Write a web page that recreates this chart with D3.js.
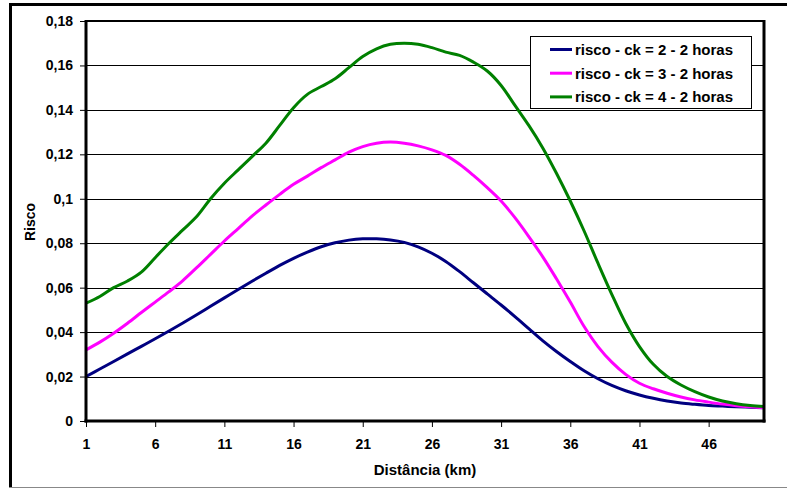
<!DOCTYPE html>
<html><head><meta charset="utf-8">
<script src="https://cdn.jsdelivr.net/npm/d3@7"></script>
<style>
body{margin:0;background:#fff;}
text{font-family:"Liberation Sans",Arial,sans-serif;font-weight:bold;fill:#000;}
</style></head>
<body><svg id="c" width="787" height="489"></svg>
<script>
const categories = d3.range(1, 51);
const seriesNames = ["risco - ck = 2 - 2 horas", "risco - ck = 3 - 2 horas", "risco - ck = 4 - 2 horas"];
const seriesColors = ["#000080", "#ff00ff", "#008000"];
const ck2 = [0.0200,0.0234,0.0268,0.0302,0.0336,0.0370,0.0405,0.0441,0.0478,0.0516,
  0.0554,0.0592,0.0629,0.0665,0.0700,0.0732,0.0760,0.0784,0.0802,0.0814,
  0.0820,0.0820,0.0815,0.0804,0.0784,0.0755,0.0718,0.0672,0.0622,0.0572,
  0.0522,0.0470,0.0416,0.0362,0.0313,0.0268,0.0226,0.0190,0.0160,0.0136,
  0.0117,0.0102,0.0090,0.0081,0.0075,0.0070,0.0067,0.0064,0.0062,0.0060];
const ck3 = [0.0320,0.0355,0.0395,0.0440,0.0488,0.0535,0.0582,0.0632,0.0690,0.0750,
  0.0810,0.0866,0.0922,0.0972,0.1020,0.1065,0.1102,0.1140,0.1175,0.1210,
  0.1235,0.1250,0.1255,0.1250,0.1238,0.1220,0.1195,0.1155,0.1105,0.1050,
  0.0990,0.0915,0.0830,0.0740,0.0640,0.0535,0.0425,0.0335,0.0265,0.0210,
  0.0170,0.0145,0.0125,0.0108,0.0095,0.0085,0.0076,0.0069,0.0064,0.0060];
const ck4 = [0.0530,0.0560,0.0600,0.0630,0.0670,0.0735,0.0800,0.0860,0.0920,0.1000,
  0.1070,0.1130,0.1190,0.1250,0.1330,0.1410,0.1470,0.1505,0.1540,0.1590,
  0.1640,0.1675,0.1695,0.1700,0.1695,0.1680,0.1660,0.1645,0.1615,0.1575,
  0.1510,0.1420,0.1330,0.1230,0.1115,0.0990,0.0855,0.0710,0.0570,0.0440,
  0.0335,0.0255,0.0200,0.0162,0.0132,0.0108,0.0090,0.0078,0.0070,0.0065];
const yTicks = [0,0.02,0.04,0.06,0.08,0.1,0.12,0.14,0.16,0.18];
const xTicks = [1,6,11,16,21,26,31,36,41,46];
const series = [ck2, ck3, ck4];

const svg = d3.select("#c");
const L = 86, R = 764, T = 21, B = 421;
const x = d3.scaleLinear().domain([1, 50]).range([L, R]);
const y = d3.scaleLinear().domain([0, 0.18]).range([B, T]);
const fmt = v => String(v).replace(".", ",");

// outer frame
svg.append("line").attr("x1",10.5).attr("x2",10.5).attr("y1",3).attr("y2",488).attr("stroke","#000").attr("stroke-width",3);
svg.append("line").attr("x1",9).attr("x2",787).attr("y1",4.5).attr("y2",4.5).attr("stroke","#000").attr("stroke-width",3);
svg.append("line").attr("x1",9).attr("x2",787).attr("y1",487.5).attr("y2",487.5).attr("stroke","#888").attr("stroke-width",1);

// gridlines
svg.append("g").selectAll("line").data(yTicks.filter(d => d > 0 && d < 0.18)).join("line")
  .attr("x1", L).attr("x2", R).attr("y1", d => Math.round(y(d)) + 0.5).attr("y2", d => Math.round(y(d)) + 0.5)
  .attr("stroke", "#000").attr("stroke-width", 1);

// y axis
const yAxis = svg.append("g").attr("transform", `translate(${L},0)`)
  .call(d3.axisLeft(y).tickValues(yTicks).tickFormat(fmt).tickSize(6).tickPadding(7));
yAxis.select(".domain").remove();
yAxis.selectAll("line").attr("stroke", "#000");
yAxis.selectAll("text").style("font-size", "14px").style("font-weight", "bold").attr("fill", "#000");

// x axis
const xAxis = svg.append("g").attr("transform", `translate(0,${B})`)
  .call(d3.axisBottom(x).tickValues(xTicks).tickFormat(d3.format("d")).tickSize(6).tickPadding(12));
xAxis.select(".domain").remove();
xAxis.selectAll("line").attr("stroke", "#000");
xAxis.selectAll("text").style("font-size", "14px").style("font-weight", "bold").attr("fill", "#000");

// series
const line = d3.line().x((d, i) => x(categories[i])).y(d => y(d)).curve(d3.curveCatmullRom.alpha(0.5));
svg.append("g").selectAll("path").data(series).join("path")
  .attr("d", d => line(d)).attr("fill", "none")
  .attr("stroke", (d, i) => seriesColors[i]).attr("stroke-width", 3);

// plot frame
svg.append("line").attr("x1", L).attr("x2", R).attr("y1", T).attr("y2", T).attr("stroke", "#000").attr("stroke-width", 2);
svg.append("line").attr("x1", L).attr("x2", L).attr("y1", T - 1).attr("y2", B + 1.5).attr("stroke", "#000").attr("stroke-width", 3);
svg.append("line").attr("x1", L - 1.5).attr("x2", R + 1.5).attr("y1", B).attr("y2", B).attr("stroke", "#000").attr("stroke-width", 3);
svg.append("line").attr("x1", R).attr("x2", R).attr("y1", T - 1).attr("y2", B + 1.5).attr("stroke", "#000").attr("stroke-width", 3);

// axis titles
svg.append("text").attr("transform", "translate(35,222) rotate(-90)").attr("text-anchor", "middle")
  .style("font-size", "14px").text("Risco");
svg.append("text").attr("x", 425).attr("y", 475).attr("text-anchor", "middle")
  .style("font-size", "15px").text("Distância (km)");

// legend
const lg = svg.append("g");
lg.append("rect").attr("x", 530.5).attr("y", 36.5).attr("width", 221).attr("height", 72)
  .attr("fill", "#fff").attr("stroke", "#000").attr("stroke-width", 1);
seriesNames.forEach((n, i) => {
  const yy = 49.5 + i * 23.7;
  lg.append("line").attr("x1", 550).attr("x2", 572).attr("y1", yy).attr("y2", yy)
    .attr("stroke", seriesColors[i]).attr("stroke-width", 3);
  lg.append("text").attr("x", 575).attr("y", yy + 5.5).style("font-size", "15px").text(n);
});
</script></body></html>
